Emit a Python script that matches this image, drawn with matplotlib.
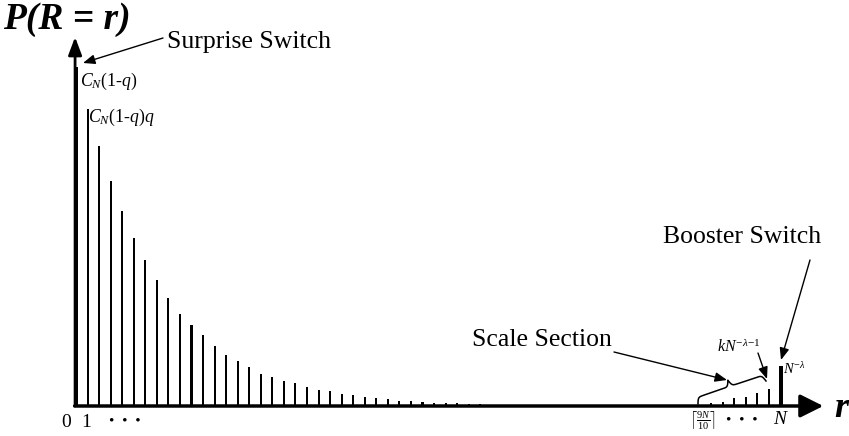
import numpy as np
import matplotlib.pyplot as plt
from matplotlib.transforms import IdentityTransform

plt.rcParams['font.family'] = ['Liberation Serif', 'DejaVu Serif']
plt.rcParams['mathtext.fontset'] = 'custom'
plt.rcParams['mathtext.rm'] = 'Liberation Serif'
plt.rcParams['mathtext.it'] = 'Liberation Serif:italic'
plt.rcParams['mathtext.bf'] = 'Liberation Serif:bold'

# geometric decay part, r = 0..40 (relative heights, bar 0 = 1)
main_r = np.arange(41)
main_p = [1.0, 0.876, 0.767, 0.664, 0.575, 0.496, 0.431, 0.372, 0.319, 0.271,
          0.239, 0.209, 0.177, 0.150, 0.133, 0.115, 0.094, 0.086, 0.074, 0.068,
          0.056, 0.047, 0.044, 0.035, 0.032, 0.027, 0.024, 0.021, 0.015, 0.015,
          0.012, 0.009, 0.009, 0.009, 0.006, 0.006, 0.003, 0.003, 0.003, 0.0015,
          0.0015]
# scale section, r = ceil(9N/10) .. N-1
scale_r = np.arange(55, 61)
scale_p = [0.008, 0.013, 0.023, 0.027, 0.037, 0.049]
# booster switch at r = N
boost_r = 61
boost_p = 0.119

W, H = 849, 436
fig = plt.figure(figsize=(W / 100, H / 100), dpi=100)
ax = fig.add_axes([0, 0, 1, 1])
ax.set_axis_off()
# pixel layout: r=0 at x=76, 11.55 px per step; p=0 at y=406, 339 px per unit
ax.set_xlim(-76 / 11.55, (W - 76) / 11.55)
ax.set_ylim(-(H - 406) / 339, 406 / 339)

ax.bar(main_r[1:], main_p[1:], width=0.18, color='black')
ax.bar(main_r[0], main_p[0], width=0.4, color='black')
ax.bar(scale_r, scale_p, width=0.18, color='black')
ax.bar(boost_r, boost_p, width=0.35, color='black')

# axes with arrows
ax.annotate('', xy=(64.7, 0), xytext=(-0.12, 0),
            arrowprops=dict(arrowstyle='-|>,head_length=0.5,head_width=0.25',
                            mutation_scale=28, lw=2.5, color='black',
                            shrinkA=0, shrinkB=0))
ax.annotate('', xy=(-0.08, (406 - 37) / 339), xytext=(-0.08, 0),
            arrowprops=dict(arrowstyle='-|>,head_length=0.4,head_width=0.15',
                            mutation_scale=27, lw=2, color='black',
                            shrinkA=0, shrinkB=0))


def fp(x, y):
    return (x, H - y)


def label(x, y, s, **kw):
    ax.annotate(s, xy=fp(x, y), xycoords='figure pixels', va='center', **kw)


def arrow(x1, y1, x2, y2):
    ax.annotate('', xy=fp(x2, y2), xycoords='figure pixels',
                xytext=fp(x1, y1), textcoords='figure pixels',
                arrowprops=dict(arrowstyle='-|>,head_length=0.55,head_width=0.22',
                                mutation_scale=13, lw=1, color='black',
                                shrinkA=0, shrinkB=0))


label(3, 19, 'P(R = r)', fontsize=27, fontweight='bold', style='italic')
label(834, 408, 'r', fontsize=26, fontweight='bold', style='italic')

label(167, 42, 'Surprise Switch', fontsize=18.5)
arrow(163, 38, 83, 63)
label(80, 81, r'$C_N$(1-$q$)', fontsize=12.8)
label(88, 117, r'$C_N$(1-$q$)$q$', fontsize=12.8)

label(663, 237, 'Booster Switch', fontsize=18.5)
arrow(810, 260, 781, 360)
label(783, 369, r'$N^{\mathrm{-}\lambda}$', fontsize=10.5)

label(472, 340, 'Scale Section', fontsize=18.5)
arrow(614, 352, 727, 380)
label(717, 347, r'$kN^{\mathrm{-}\lambda\mathrm{-}1}$', fontsize=11.5)
arrow(758, 353, 767, 379)

# curly brace over scale section
x1, y1, x2, y2 = 698, H - 404, 766, H - 381
L = np.hypot(x2 - x1, y2 - y1)
ang = np.arctan2(y2 - y1, x2 - x1)
hb = 13
beta = 0.9
q = np.linspace(0, L / 2, 80)
half = 1 / (1 + np.exp(-beta * (q - q[0]))) + 1 / (1 + np.exp(-beta * (q - q[-1])))
u = np.concatenate([q, q + L / 2])
v = hb * (np.concatenate([half, half[::-1]]) - 0.5)
px = x1 + u * np.cos(ang) - v * np.sin(ang)
py = y1 + u * np.sin(ang) + v * np.cos(ang)
ax.plot(px, py, color='black', lw=1.1, transform=IdentityTransform())

# bottom labels
label(66, 422, '0', fontsize=14, ha='center')
label(86, 422, '1', fontsize=14, ha='center')
label(125, 421, '•  •  •', fontsize=11, ha='center')
label(702, 421, r'$\left\lceil\frac{9N}{10}\right\rceil$', fontsize=10.5, ha='center')
label(742, 420, '•  •  •', fontsize=11, ha='center')
label(780, 419, 'N', fontsize=14, style='italic', ha='center')

fig.savefig('out.png', dpi=100)
